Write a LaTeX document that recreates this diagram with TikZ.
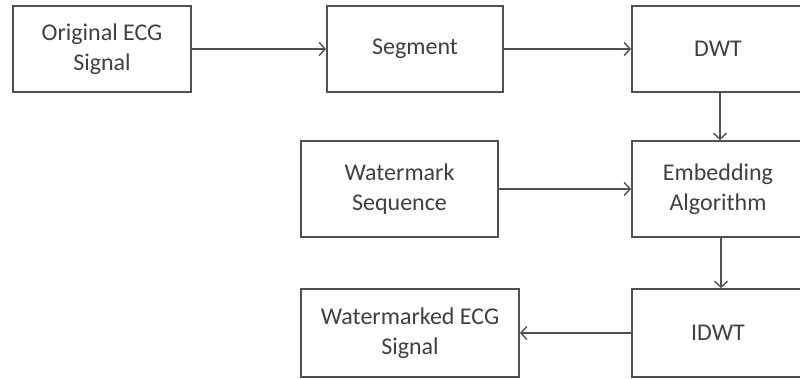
\documentclass[tikz,border=0pt]{standalone}
\usepackage{fontspec}
\setmainfont{Carlito}
\usetikzlibrary{arrows.meta}
\definecolor{linec}{HTML}{505050}
\definecolor{textc}{HTML}{404040}
\begin{document}
\begin{tikzpicture}[x=1pt,y=-1pt,
  blk/.style={draw=linec,line width=1.8pt,fill=white,inner sep=0pt,align=center,
    text=textc,font=\fontsize{24}{30}\selectfont},
  conn/.style={draw=linec,line width=1.6pt,-{Straight Barb[length=6pt,width=13pt,line width=1.4pt]}}]
\clip (0,0) rectangle (800,378);
\fill[white] (0,0) rectangle (800,378);
\node[blk,minimum width=178pt,minimum height=86pt] (orig) at (102,49) {Original ECG\\Signal};
\node[blk,minimum width=176pt,minimum height=86pt] (seg) at (415,49) {Segment};
\node[blk,minimum width=172pt,minimum height=86pt] (dwt) at (718,49) {DWT};
\node[blk,minimum width=197pt,minimum height=96pt] (wm) at (399.5,189) {Watermark\\Sequence};
\node[blk,minimum width=172pt,minimum height=96pt] (emb) at (718,189) {Embedding\\Algorithm};
\node[blk,minimum width=218pt,minimum height=88pt] (wecg) at (410,333) {Watermarked ECG\\Signal};
\node[blk,minimum width=172pt,minimum height=88pt] (idwt) at (718,333) {IDWT};
\draw[conn] (orig.east) -- (seg.west);
\draw[conn] (seg.east) -- (dwt.west);
\draw[conn] ([xshift=2pt]dwt.south) -- ([xshift=2pt]emb.north);
\draw[conn] (wm.east) -- (emb.west);
\draw[conn] ([xshift=3pt]emb.south) -- ([xshift=3pt]idwt.north);
\draw[conn] (idwt.west) -- (wecg.east);
\end{tikzpicture}
\end{document}
